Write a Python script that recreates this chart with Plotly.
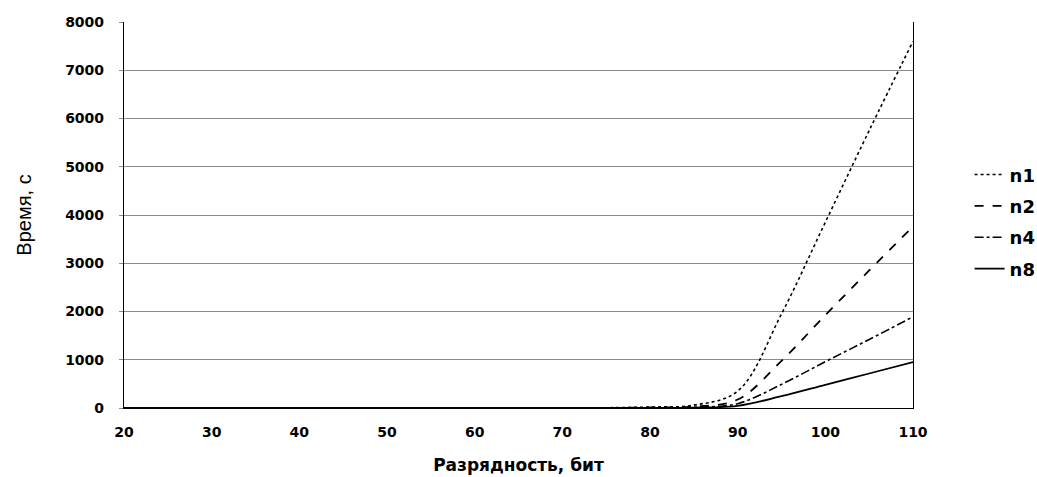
import plotly.graph_objects as go

# Bit length (x) and computation time in seconds for each thread count
bits = [20, 30, 40, 50, 60, 70, 80, 85, 90, 95, 100, 105, 110]
n1 = [0, 0, 0, 0, 0, 0, 20, 60, 350, 1950, 3850, 5750, 7600]
n2 = [0, 0, 0, 0, 0, 0, 10, 30, 175, 975, 1925, 2850, 3760]
n4 = [0, 0, 0, 0, 0, 0, 5, 15, 90, 490, 960, 1420, 1890]
n8 = [0, 0, 0, 0, 0, 0, 3, 8, 45, 245, 480, 715, 950]

series = [
    ("n1", n1, "dot", 1.6),
    ("n2", n2, "dash", 1.8),
    ("n4", n4, "dashdot", 1.6),
    ("n8", n8, "solid", 1.8),
]

x_ticks = [20, 30, 40, 50, 60, 70, 80, 90, 100, 110]
y_ticks = [0, 1000, 2000, 3000, 4000, 5000, 6000, 7000, 8000]

fig = go.Figure()
for name, vals, dash, w in series:
    fig.add_trace(go.Scatter(
        x=bits, y=vals, name=name, mode="lines", legendgroup=name,
        line=dict(color="black", dash=dash, width=w, shape="spline", smoothing=1.0),
    ))

tick_font = dict(family="DejaVu Sans", size=14, color="black", weight="bold")

fig.update_layout(
    width=1037, height=477,
    margin=dict(l=124, r=124, t=22, b=69, autoexpand=False),
    paper_bgcolor="white", plot_bgcolor="white",
    showlegend=True,
    legend=dict(
        xref="container", yref="container",
        x=0.935, y=0.535, xanchor="left", yanchor="middle",
        font=dict(family="DejaVu Sans", size=18, color="black", weight="bold"),
        itemwidth=30, tracegroupgap=5, bgcolor="rgba(0,0,0,0)",
    ),
    xaxis=dict(
        range=[20, 110], tickvals=x_ticks, ticktext=[str(v) for v in x_ticks],
        showgrid=False, zeroline=False,
        showline=True, linecolor="black", linewidth=1.2,
        ticks="", tickfont=tick_font, ticklabelstandoff=11,
        title=dict(text="Разрядность, бит", standoff=20,
                   font=dict(family="DejaVu Sans", size=17, color="black", weight="bold")),
    ),
    yaxis=dict(
        range=[0, 8000], tickvals=y_ticks, ticktext=[str(v) for v in y_ticks],
        showgrid=True, gridcolor="#8c8c8c", gridwidth=1, zeroline=False,
        showline=True, mirror=True, linecolor="black", linewidth=1.2,
        ticks="outside", ticklen=4, tickcolor="#8c8c8c", tickfont=tick_font,
        ticklabelstandoff=12,
        title=dict(text="Время, с", standoff=28,
                   font=dict(family="Liberation Sans", size=20, color="black")),
    ),
)

fig.write_html("out.html")
